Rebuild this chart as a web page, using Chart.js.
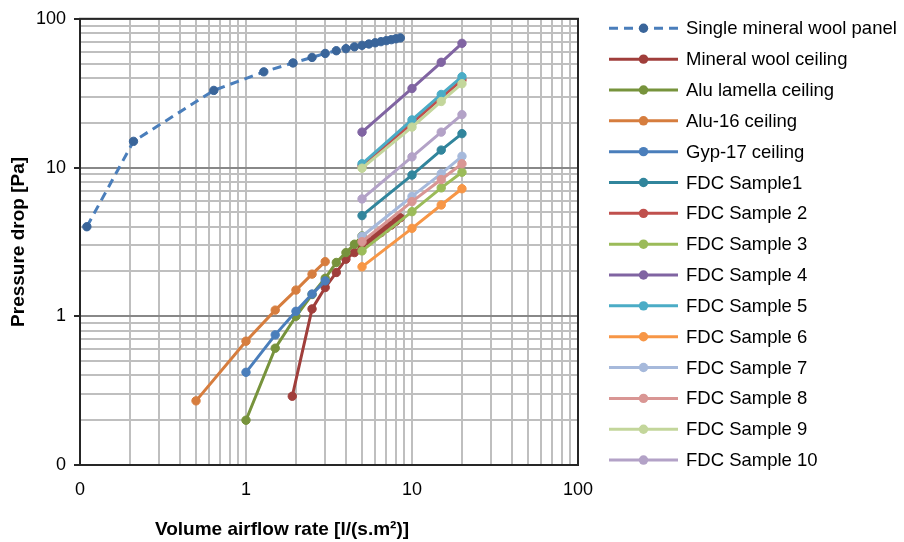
<!DOCTYPE html>
<html>
<head>
<meta charset="utf-8">
<script src="https://cdn.jsdelivr.net/npm/chart.js@4.4.1/dist/chart.umd.min.js"></script>
<style>
    body { margin: 0; background: #fff; }
    #wrap { width: 904px; height: 542px; }
</style>
</head>
<body>
<div id="wrap"><canvas id="dataChart" width="904" height="542"></canvas></div>
<script>
// series values (x = airflow, y = pressure drop)
const panelX = [0.11, 0.21, 0.64, 1.28, 1.92, 2.5, 3.0, 3.5, 4.0, 4.5, 5.0, 5.5, 6.0, 6.5, 7.0, 7.5, 8.0, 8.5];
const panelY = [4.0, 15.0, 33, 44, 50.5, 55, 58.5, 61, 63, 64.8, 66.3, 67.7, 69, 70.2, 71.3, 72.4, 73.4, 74.4];
const mineralX = [1.9, 2.5, 3.0, 3.5, 4.0, 4.5, 5.0, 5.5, 6.0, 6.5, 7.0, 7.5, 8.0, 8.5];
const mineralY = [0.29, 1.12, 1.56, 1.97, 2.42, 2.68, 2.95, 3.2, 3.45, 3.65, 3.9, 4.1, 4.35, 4.6];
const aluLamellaX = [1, 1.5, 2, 2.5, 3, 3.5, 4, 4.5, 5];
const aluLamellaY = [0.2, 0.61, 1.0, 1.4, 1.8, 2.3, 2.68, 3.05, 3.47];
const alu16X = [0.5, 1, 1.5, 2, 2.5, 3];
const alu16Y = [0.27, 0.68, 1.1, 1.5, 1.92, 2.33];
const gyp17X = [1, 1.5, 2, 2.5, 3];
const gyp17Y = [0.42, 0.75, 1.08, 1.41, 1.73];
const fdcX = [5, 10, 15, 20];
const fdc1 = [4.75, 8.9, 13.1, 16.9];
const fdc2 = [10.3, 19.9, 29.5, 38.8];
const fdc3 = [2.75, 5.05, 7.3, 9.3];
const fdc4 = [17.3, 34, 51, 68.4];
const fdc5 = [10.6, 20.9, 31, 40.8];
const fdc6 = [2.15, 3.9, 5.6, 7.2];
const fdc7 = [3.45, 6.4, 9.1, 11.9];
const fdc8 = [3.17, 5.9, 8.3, 10.6];
const fdc9 = [9.9, 18.7, 27.8, 36.6];
const fdc10 = [6.15, 11.8, 17.3, 22.7];

const seriesNames = ['Single mineral wool panel', 'Mineral wool ceiling', 'Alu lamella ceiling', 'Alu-16 ceiling', 'Gyp-17 ceiling',
    'FDC Sample1', 'FDC Sample 2', 'FDC Sample 3', 'FDC Sample 4', 'FDC Sample 5', 'FDC Sample 6', 'FDC Sample 7',
    'FDC Sample 8', 'FDC Sample 9', 'FDC Sample 10'];
const seriesX = [panelX, mineralX, aluLamellaX, alu16X, gyp17X, fdcX, fdcX, fdcX, fdcX, fdcX, fdcX, fdcX, fdcX, fdcX, fdcX];
const seriesY = [panelY, mineralY, aluLamellaY, alu16Y, gyp17Y, fdc1, fdc2, fdc3, fdc4, fdc5, fdc6, fdc7, fdc8, fdc9, fdc10];
const seriesColors = ['#4A7EBB', '#A03E3B', '#77933C', '#D67D3E', '#4A7EBB', '#31859C', '#C0504D', '#9BBB59', '#8064A2',
    '#4BACC6', '#F79646', '#A6B9DB', '#D99694', '#C3D69B', '#B3A2C7'];

// gridline positions and the labels shown on both log axes
const gridTicks = [0.1, 0.2, 0.3, 0.4, 0.5, 0.6, 0.7, 0.8, 0.9, 1, 2, 3, 4, 5, 6, 7, 8, 9,
    10, 20, 30, 40, 50, 60, 70, 80, 90, 100];
const majorTicks = [0.1, 1, 10, 100];
const majorLabels = ['0', '1', '10', '100'];

const FONT = '"Liberation Sans", Arial, sans-serif';

function isMajor(v) {
    return majorTicks.some(m => Math.abs(m - v) < 1e-9);
}
function tickLabel(v) {
    const i = majorTicks.findIndex(m => Math.abs(m - v) < 1e-9);
    return i >= 0 ? majorLabels[i] : '';
}

const datasets = seriesNames.map((name, i) => ({
    label: name,
    data: seriesX[i].map((x, k) => ({x: x, y: seriesY[i][k]})),
    showLine: true,
    borderColor: seriesColors[i],
    borderWidth: 3,
    borderDash: i === 0 ? [9, 6] : [],
    pointBackgroundColor: i === 0 ? '#3A659A' : seriesColors[i],
    pointBorderColor: i === 0 ? '#3A659A' : seriesColors[i],
    pointRadius: 4.2,
    pointBorderWidth: 1,
    order: seriesNames.length - i        // later series drawn on top, like the original
}));

const frameAndLegend = {
    id: 'frameAndLegend',
    beforeDatasetsDraw(chart) {
        const {ctx, chartArea: a} = chart;
        ctx.save();
        ctx.strokeStyle = '#262626';
        ctx.lineWidth = 2;
        ctx.strokeRect(a.left, a.top, a.right - a.left, a.bottom - a.top);
        ctx.restore();
    },
    afterDraw(chart) {
        const ctx = chart.ctx;
        ctx.save();
        // x axis title sits left of the plot centre in the original
        ctx.fillStyle = '#000';
        ctx.font = 'bold 19px ' + FONT;
        ctx.textAlign = 'center';
        ctx.textBaseline = 'middle';
        ctx.fillText('Volume airflow rate [l/(s.m²)]', 282, 530);

        ctx.font = '18.5px ' + FONT;
        ctx.textAlign = 'left';
        chart.data.datasets.forEach((ds, i) => {
            const y = 28.3 + i * 30.84;
            ctx.strokeStyle = ds.borderColor;
            ctx.lineWidth = 3;
            ctx.setLineDash(ds.borderDash);
            ctx.beginPath();
            ctx.moveTo(609, y);
            ctx.lineTo(678, y);
            ctx.stroke();
            ctx.setLineDash([]);
            ctx.fillStyle = ds.pointBackgroundColor;
            ctx.beginPath();
            ctx.arc(643.5, y, 4.7, 0, Math.PI * 2);
            ctx.fill();
            ctx.fillStyle = '#000';
            ctx.fillText(ds.label, 686, y + 1);
        });
        ctx.restore();
    }
};

const dataChart = new Chart(document.getElementById('dataChart'), {
    type: 'scatter',
    data: {datasets: datasets},
    plugins: [frameAndLegend],
    options: {
        responsive: false,
        animation: false,
        layout: {padding: {top: 17, right: 326, left: 0, bottom: 0}},
        plugins: {legend: {display: false}, tooltip: {enabled: false}},
        scales: {
            x: {
                type: 'logarithmic',
                min: 0.1,
                max: 100,
                afterBuildTicks: scale => { scale.ticks = gridTicks.map(v => ({value: v})); },
                afterFit: scale => { scale.height = 77; },
                ticks: {
                    autoSkip: false,
                    maxRotation: 0,
                    minRotation: 0,
                    padding: 14,
                    color: '#000',
                    font: {family: FONT, size: 18},
                    callback: v => tickLabel(v)
                },
                grid: {
                    color: '#BFBFBF',
                    lineWidth: 2,
                    drawTicks: false
                },
                border: {display: false}
            },
            y: {
                type: 'logarithmic',
                min: 0.1,
                max: 100,
                afterBuildTicks: scale => { scale.ticks = gridTicks.map(v => ({value: v})); },
                afterFit: scale => { scale.width = 80; },
                ticks: {
                    autoSkip: false,
                    padding: 8,
                    color: '#000',
                    font: {family: FONT, size: 18},
                    callback: v => tickLabel(v)
                },
                grid: {
                    color: ctx => isMajor(ctx.tick.value) ? '#888888' : '#BFBFBF',
                    lineWidth: 2,
                    tickLength: 6,
                    tickColor: ctx => isMajor(ctx.tick.value) ? '#262626' : 'rgba(0,0,0,0)',
                    tickWidth: 2
                },
                border: {display: false},
                title: {
                    display: true,
                    text: 'Pressure drop [Pa]',
                    color: '#000',
                    font: {family: FONT, size: 19, weight: 'bold'},
                    padding: {top: 7, bottom: 0}
                }
            }
        }
    }
});
</script>
</body>
</html>
